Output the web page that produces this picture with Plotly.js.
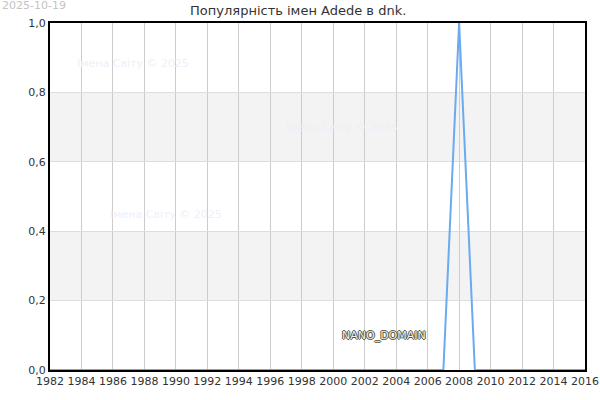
<!DOCTYPE html>
<html>
<head>
<meta charset="utf-8">
<script src="https://cdn.plot.ly/plotly-3.0.1.min.js"></script>
<style>
  html, body { margin: 0; padding: 0; background: #fff; }
  #chart { width: 600px; height: 400px; }
</style>
</head>
<body>
<div id="chart"></div>
<script>
/* ----- data ----- */
var years = [];
for (var y = 1982; y <= 2016; y++) years.push(y);
// popularity per year: nothing but 2008
var popularity = [0,0,0,0,0,0,0,0,0,0,0,0,0,0,0,0,0,0,0,0,0,0,0,0,0,0,1,0,0,0,0,0,0,0,0];
var xTicks = [1982,1984,1986,1988,1990,1992,1994,1996,1998,2000,2002,2004,2006,2008,2010,2012,2014,2016];
var yTicks = [0, 0.2, 0.4, 0.6, 0.8, 1.0];
var bands = [[0.2, 0.4], [0.6, 0.8]];

var titleText = 'Популярність імен Adede в dnk.';
var dateText = '2025-10-19';
var watermark = 'Імена Світу © 2025';

var font = 'DejaVu Sans, sans-serif';

var trace = {
    x: years,
    y: popularity,
    mode: 'lines',
    line: {color: '#6aaaf0', width: 2},
    hoverinfo: 'none'
};

var shapes = bands.map(function (b) {
    return {
        type: 'rect', layer: 'below',
        xref: 'paper', x0: 0, x1: 1,
        yref: 'y', y0: b[0], y1: b[1],
        fillcolor: '#f3f3f3', line: {width: 0}
    };
});

function mark(x, y) {
    return {
        xref: 'paper', yref: 'paper', x: x, y: y,
        xanchor: 'center', yanchor: 'middle',
        text: watermark, showarrow: false,
        font: {family: font, size: 11, color: '#efeffa'}
    };
}

var annotations = [
    {
        xref: 'paper', yref: 'paper', x: 0, y: 1, yanchor: 'top', xanchor: 'left',
        yshift: 26, xshift: -50,
        text: dateText, showarrow: false,
        font: {family: font, size: 11, color: '#c4c4c4'}
    },
    mark(0.156, 0.884),
    mark(0.545, 0.700),
    mark(0.216, 0.447),
    {
        xref: 'x', yref: 'y', x: 2003.2, y: 0.1,
        xanchor: 'center', yanchor: 'middle',
        text: 'NANO_DOMAIN', showarrow: false,
        font: {
            family: font, size: 11, color: '#f0f0e8',
            shadow: '1px 0 0 #4f5438, -1px 0 0 #4f5438, 0 1px 0 #4f5438, 0 -1px 0 #4f5438'
        }
    }
];

var layout = {
    width: 600,
    height: 400,
    separators: ', ',
    margin: {l: 50, r: 15, t: 23, b: 30},
    paper_bgcolor: '#fff',
    plot_bgcolor: '#fff',
    showlegend: false,
    font: {family: font, size: 11, color: '#333'},
    title: {
        text: titleText,
        x: 0.497, xanchor: 'center',
        y: 0.975, yanchor: 'middle',
        font: {family: font, size: 13, color: '#333'}
    },
    xaxis: {
        range: [1982, 2016],
        tickvals: xTicks,
        ticktext: xTicks.map(String),
        showgrid: true,
        gridcolor: '#cccccc',
        gridwidth: 1,
        zeroline: false,
        showline: true,
        linecolor: '#000',
        linewidth: 2,
        mirror: true,
        ticks: '',
        tickfont: {family: font, size: 11, color: '#333'}
    },
    yaxis: {
        range: [0, 1],
        tickvals: yTicks,
        tickformat: '.1f',
        showgrid: true,
        gridcolor: '#dddddd',
        gridwidth: 1,
        zeroline: false,
        showline: true,
        linecolor: '#000',
        linewidth: 2,
        mirror: true,
        ticks: '',
        tickfont: {family: font, size: 11, color: '#333'}
    },
    shapes: shapes,
    annotations: annotations
};

Plotly.newPlot('chart', [trace], layout, {staticPlot: true});
</script>
</body>
</html>
